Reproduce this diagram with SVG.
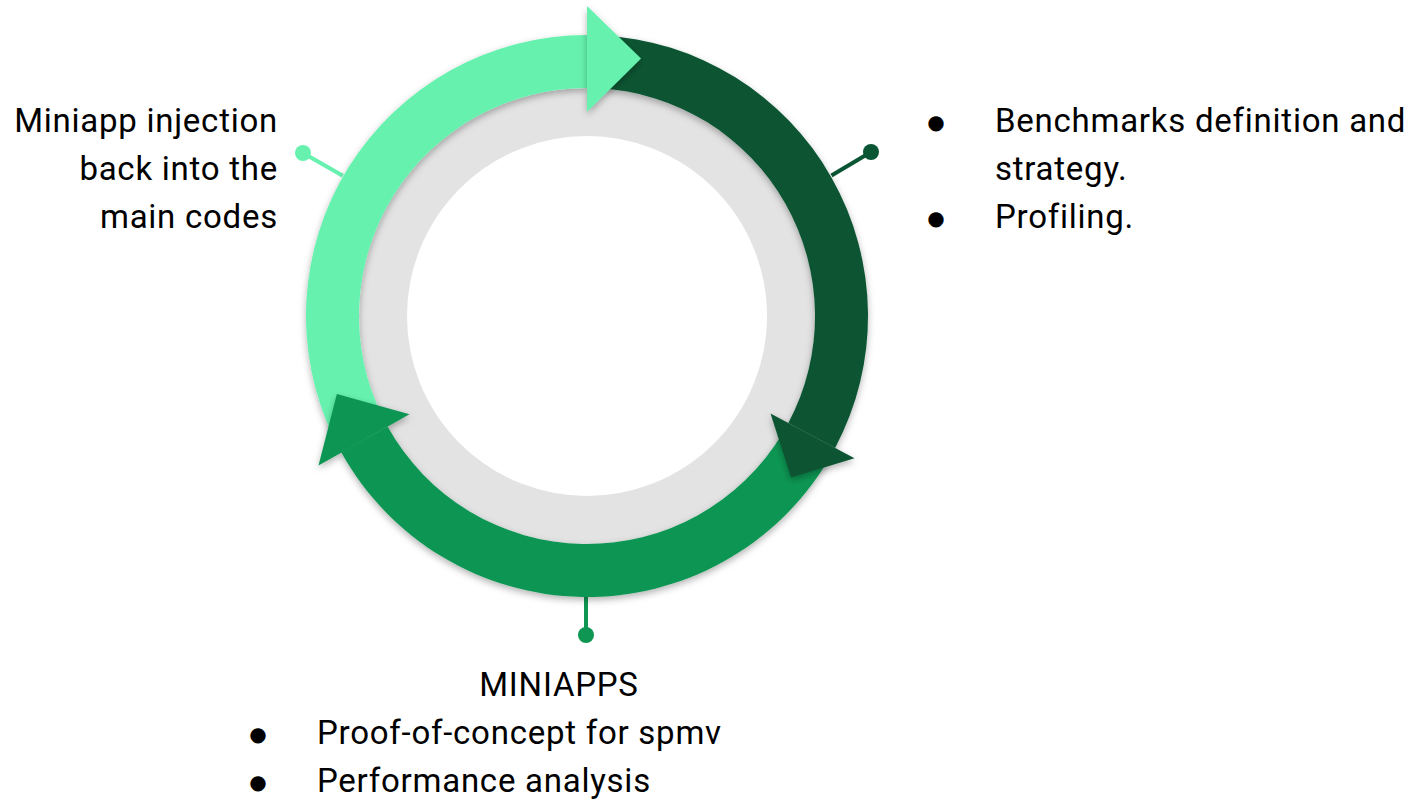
<svg xmlns="http://www.w3.org/2000/svg" width="1420" height="800" viewBox="0 0 1420 800">
  <defs>
    <filter id="sh" x="-20%" y="-20%" width="140%" height="140%">
      <feDropShadow dx="0" dy="3" stdDeviation="3.5" flood-color="#000" flood-opacity="0.3"/>
    </filter>
    <style>
      .t { font-family: Roboto, "Liberation Sans", sans-serif; font-size: 33px; letter-spacing: 0.75px; fill: #000; }
      .b { font-family: "DejaVu Sans", sans-serif; font-size: 20px; fill: #000; }
      .light { fill: #66F2AE; }
      .dark { fill: #0A5533; }
      .mid { fill: #0F9653; }
      .ring { fill: none; stroke: #E3E3E3; stroke-width: 48; }
    </style>
  </defs>
  <rect width="1420" height="800" fill="#fff"/>

  <g id="ring">
    <circle class="ring" cx="587" cy="316" r="204"/>
  </g>

  <g id="connectors">
    <line x1="342.8" y1="175.8" x2="303" y2="153" stroke="#66F2AE" stroke-width="4"/>
    <circle cx="303" cy="153" r="8" class="light"/>
    <line x1="831.5" y1="175.5" x2="871" y2="152" stroke="#0A5533" stroke-width="4"/>
    <circle cx="871" cy="152" r="8" class="dark"/>
    <line x1="586" y1="596" x2="586" y2="634" stroke="#0F9653" stroke-width="4"/>
    <circle cx="586" cy="635" r="8" class="mid"/>
  </g>

  <g id="arrows">
    <path id="light-band" class="light" filter="url(#sh)" d="M 334.44 439.18 A 281 281 0 0 1 587 35 L 587 88 A 228 228 0 0 0 382.08 415.95 Z"/>
    <g id="mid-arrow" filter="url(#sh)">
      <path class="mid" d="M 827.86 460.73 A 281 281 0 0 1 341.23 452.23 L 387.59 426.54 A 228 228 0 0 0 782.43 433.43 Z"/>
      <polygon class="mid" points="318.5,465.5 336.85,393.91 409.5,414.2"/>
    </g>
    <g id="dark-arrow" filter="url(#sh)">
      <path class="dark" d="M 601.71 35.39 A 281 281 0 0 1 835.11 447.92 L 788.31 423.04 A 228 228 0 0 0 598.93 88.31 Z"/>
      <polygon class="dark" points="770.5,413.5 854.5,458.2 791,477.5"/>
    </g>
    <polygon id="light-head" class="light" filter="url(#sh)" points="587,6 641,58.5 587,112"/>
  </g>

  <g id="label-left">
    <text class="t" text-anchor="end" x="278" y="132">Miniapp injection</text>
    <text class="t" text-anchor="end" x="278" y="180">back into the</text>
    <text class="t" text-anchor="end" x="278" y="228">main codes</text>
  </g>

  <g id="label-right">
    <text class="b" text-anchor="middle" x="936" y="129">●</text>
    <text class="t" x="995" y="132">Benchmarks definition and</text>
    <text class="t" x="995" y="180">strategy.</text>
    <text class="b" text-anchor="middle" x="936" y="225">●</text>
    <text class="t" x="995" y="228">Profiling.</text>
  </g>

  <g id="label-bottom">
    <text class="t" text-anchor="middle" x="559" y="696">MINIAPPS</text>
    <text class="b" text-anchor="middle" x="258" y="741">●</text>
    <text class="t" x="317" y="744">Proof-of-concept for spmv</text>
    <text class="b" text-anchor="middle" x="258" y="789">●</text>
    <text class="t" x="317" y="792">Performance analysis</text>
  </g>
</svg>
